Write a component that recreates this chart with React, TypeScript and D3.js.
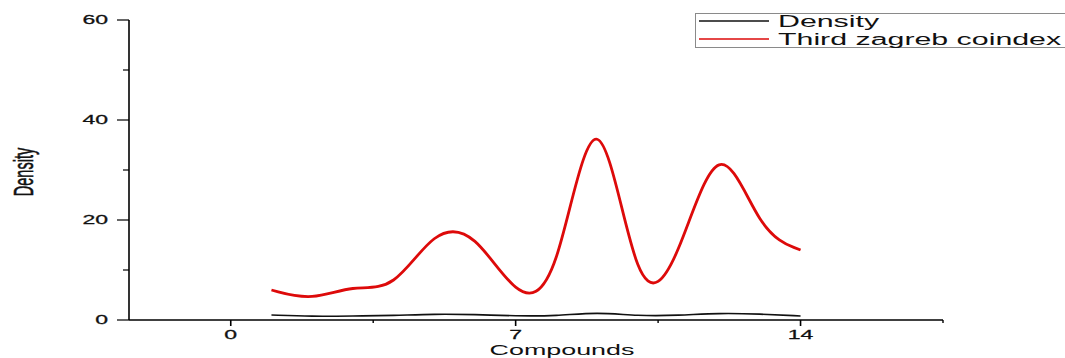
import React, { useEffect, useRef } from 'react';
import * as d3 from 'd3';

// compounds 1..14 along the x axis
const compounds = [1, 2, 3, 4, 5, 6, 7, 8, 9, 10, 11, 12, 13, 14];
// B-spline control values
const densityValues = [1.0, 0.7, 0.8, 0.9, 1.2, 1.1, 0.8, 0.8, 1.6, 0.8, 0.9, 1.4, 1.2, 0.8];
const zagrebValues = [6.0, 3.8, 7.1, 5.6, 18.5, 17.9, 4.2, 4.7, 52.9, 0.6, 11.5, 39.4, 17.1, 14.0];

const yMajorTicks = [0, 20, 40, 60];
const yMinorTicks = [10, 30, 50];
const xMajorTicks = [0, 7, 14];
const xMinorTicks = [3.5, 10.5, 17.5];

const seriesNames = ['Density', 'Third zagreb coindex'];
const seriesColors = ['#111111', '#dd0a0a'];

const App: React.FC = () => {
    const svgRef = useRef<SVGSVGElement>(null);

    useEffect(() => {
        if (!svgRef.current) return;
        const svg = d3.select(svgRef.current);
        svg.selectAll('*').remove();

        const width = 1065;
        const height = 358;
        const stretch = 1.92; // the picture is stretched sideways
        const font = "'Liberation Sans', Arial, sans-serif";

        svg.attr('width', width).attr('height', height);

        const x = d3.scaleLinear().domain([-2.5, 17.5]).range([129, 943]);
        const y = d3.scaleLinear().domain([0, 60]).range([320, 20]);

        // axes lines
        svg.append('line')
            .attr('x1', x(-2.5)).attr('x2', x(-2.5))
            .attr('y1', y(60)).attr('y2', y(0))
            .attr('stroke', '#000').attr('stroke-width', 1.6);
        svg.append('line')
            .attr('x1', x(-2.5)).attr('x2', x(17.5))
            .attr('y1', y(0)).attr('y2', y(0))
            .attr('stroke', '#000').attr('stroke-width', 1.4);

        // y ticks
        svg.selectAll('.ymaj')
            .data(yMajorTicks)
            .enter()
            .append('line')
            .attr('x1', x(-2.5) - 12).attr('x2', x(-2.5))
            .attr('y1', d => y(d)).attr('y2', d => y(d))
            .attr('stroke', '#000').attr('stroke-width', 1.2);
        svg.selectAll('.ymin')
            .data(yMinorTicks)
            .enter()
            .append('line')
            .attr('x1', x(-2.5) - 6).attr('x2', x(-2.5))
            .attr('y1', d => y(d)).attr('y2', d => y(d))
            .attr('stroke', '#000').attr('stroke-width', 1.2);
        svg.selectAll('.ylab')
            .data(yMajorTicks)
            .enter()
            .append('text')
            .attr('transform', d => `translate(${x(-2.5) - 21}, ${y(d)}) scale(${stretch},1)`)
            .attr('text-anchor', 'end')
            .attr('dominant-baseline', 'central')
            .attr('font-family', font)
            .attr('font-size', 12)
            .attr('fill', '#111')
            .attr('stroke', '#111').attr('stroke-width', 0.25)
            .text(d => d);

        // x ticks
        svg.selectAll('.xmaj')
            .data(xMajorTicks)
            .enter()
            .append('line')
            .attr('x1', d => x(d)).attr('x2', d => x(d))
            .attr('y1', y(0)).attr('y2', y(0) + 6)
            .attr('stroke', '#000').attr('stroke-width', 1.6);
        svg.selectAll('.xmin')
            .data(xMinorTicks)
            .enter()
            .append('line')
            .attr('x1', d => x(d)).attr('x2', d => x(d))
            .attr('y1', y(0)).attr('y2', y(0) + 3)
            .attr('stroke', '#000').attr('stroke-width', 1.4);
        svg.selectAll('.xlab')
            .data(xMajorTicks)
            .enter()
            .append('text')
            .attr('transform', d => `translate(${x(d)}, 339) scale(${stretch},1)`)
            .attr('text-anchor', 'middle')
            .attr('font-family', font)
            .attr('font-size', 12)
            .attr('fill', '#111')
            .attr('stroke', '#111').attr('stroke-width', 0.25)
            .text(d => d);

        // axis titles
        svg.append('text')
            .attr('transform', `translate(562, 355) scale(${stretch},1)`)
            .attr('text-anchor', 'middle')
            .attr('font-family', font)
            .attr('font-size', 14)
            .attr('fill', '#111')
            .text('Compounds');
        svg.append('text')
            .attr('transform', `translate(33, 172) scale(${stretch},1) rotate(-90)`)
            .attr('text-anchor', 'middle')
            .attr('font-family', font)
            .attr('font-size', 14.5)
            .attr('fill', '#111')
            .attr('stroke', '#111').attr('stroke-width', 0.3)
            .text('Density');

        // series
        const line = d3.line<number>()
            .x((_, i) => x(compounds[i]))
            .y(d => y(d))
            .curve(d3.curveBasis);

        svg.append('path')
            .datum(densityValues)
            .attr('d', line)
            .attr('fill', 'none')
            .attr('stroke', seriesColors[0])
            .attr('stroke-width', 1.6);
        svg.append('path')
            .datum(zagrebValues)
            .attr('d', line)
            .attr('fill', 'none')
            .attr('stroke', seriesColors[1])
            .attr('stroke-width', 2.8);

        // legend
        const legend = svg.append('g');
        legend.append('rect')
            .attr('x', 695.5).attr('y', 13.5)
            .attr('width', 400).attr('height', 34)
            .attr('fill', '#fff')
            .attr('stroke', '#8a8a8a').attr('stroke-width', 1);
        const rows = legend.selectAll('.row')
            .data(seriesNames)
            .enter()
            .append('g')
            .attr('transform', (_, i) => `translate(0, ${21 + i * 18})`);
        rows.append('line')
            .attr('x1', 699).attr('x2', 769)
            .attr('stroke', (_, i) => seriesColors[i])
            .attr('stroke-width', 1.6);
        rows.append('text')
            .attr('transform', `translate(778, 6) scale(${stretch},1)`)
            .attr('font-family', font)
            .attr('font-size', 15.8)
            .attr('fill', '#111')
            .text(d => d);
    }, []);

    return (
        <svg ref={svgRef} style={{ position: 'absolute', left: 0, top: 0, background: '#fff' }}></svg>
    );
};

export default App;
